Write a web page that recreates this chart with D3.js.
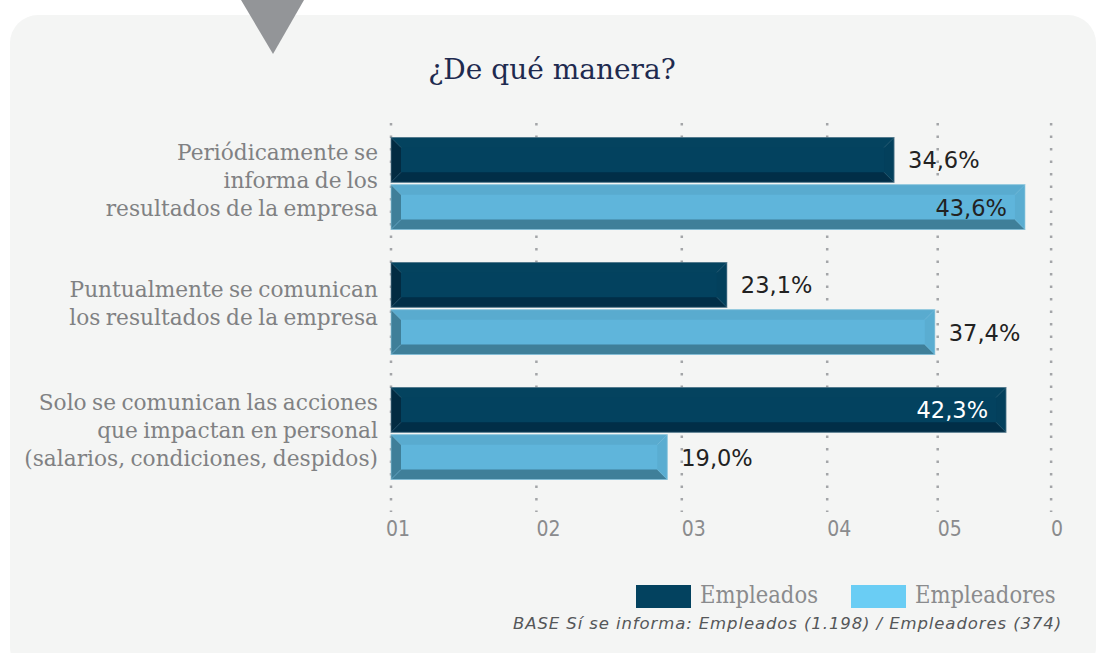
<!DOCTYPE html>
<html><head><meta charset="utf-8">
<script src="https://cdn.jsdelivr.net/npm/d3@7"></script>
<style>
html,body{margin:0;padding:0;background:#fff;}
svg{display:block;}
</style></head>
<body>
<script>
const title = "¿De qué manera?";
const categories = [
  ["Periódicamente se","informa de los","resultados de la empresa"],
  ["Puntualmente se comunican","los resultados de la empresa"],
  ["Solo se comunican las acciones","que impactan en personal","(salarios, condiciones, despidos)"]
];
const seriesNames = ["Empleados","Empleadores"];
const empleados = [34.6, 23.1, 42.3];
const empleadores = [43.6, 37.4, 19.0];
const gridValues = [0, 10, 20, 30, 37.6, 45.4];
const tickLabels = ["01","02","03","04","05","0"];
const baseNote = "BASE Sí se informa: Empleados (1.198) / Empleadores (374)";

const W = 1102, H = 653;
const svg = d3.select("body").append("svg").attr("width", W).attr("height", H);

// panel
svg.append("rect").attr("x",10).attr("y",15).attr("width",1086).attr("height",660)
  .attr("rx",28).attr("fill","#f4f5f4");
// triangle pointer
svg.append("path").attr("d","M241,0 L304,0 L273,54 Z").attr("fill","#939598");

// title
svg.append("text").attr("x",552).attr("y",79).attr("text-anchor","middle")
  .attr("font-family","'DejaVu Serif',serif").attr("font-size",28)
  .attr("fill","#1e2a4f").text(title);

const x = d3.scaleLinear().domain([0,50]).range([391, 391 + 727]);
const y = d3.scaleBand().domain(d3.range(categories.length)).range([120.5, 495.5]).padding(0);
const ys = d3.scaleBand().domain(seriesNames).range([17, 109]).paddingInner(0.05);

// gridlines
svg.append("g").selectAll("line").data(gridValues).join("line")
  .attr("x1", d => x(d)).attr("x2", d => x(d))
  .attr("y1", 123).attr("y2", 512)
  .attr("stroke","#a3a5a8").attr("stroke-width",2.5).attr("stroke-dasharray","2.5,10");

// tick labels
svg.append("g").selectAll("text").data(gridValues).join("text")
  .attr("x", (d,i) => x(d) + (i===0 ? -5 : 0)).attr("y", 536)
  .attr("font-family","'DejaVu Sans Condensed','DejaVu Sans',sans-serif").attr("font-size",21)
  .attr("fill","#8a8b8d").text((d,i) => tickLabels[i]);

// category labels
const catG = svg.append("g");
categories.forEach((lines, i) => {
  const cy = y(i) + y.bandwidth()/2;
  const n = lines.length;
  const t = catG.append("text").attr("text-anchor","end")
    .attr("font-family","'DejaVu Serif',serif").attr("font-size",21.7)
    .attr("word-spacing",-1.5)
    .attr("fill","#808183");
  lines.forEach((l, j) => {
    t.append("tspan").attr("x", 378).attr("y", cy + (j - (n-1)/2) * 28 + (n === 3 ? 5 : 3)).text(l);
  });
});

// bars with bevel
const palette = {
  Empleados:   {main:"#03425f", top:"#04435f", bottom:"#012e47", left:"#022b42", right:"#03405c", edge:"#5c7f92", text:"#ffffff"},
  Empleadores: {main:"#5fb5db", top:"#59abcf", bottom:"#3f7f99", left:"#3f7f99", right:"#5aadd1", edge:"#8cc4dc", text:"#222222"}
};
const data = [];
categories.forEach((c, i) => {
  data.push({cat:i, s:"Empleados", v:empleados[i]});
  data.push({cat:i, s:"Empleadores", v:empleadores[i]});
});
const inset = 10;
const barG = svg.append("g");
data.forEach(d => {
  const p = palette[d.s];
  const x0 = x(0), x1 = x(d.v);
  const y0 = y(d.cat) + ys(d.s), y1 = y0 + ys.bandwidth();
  const g = barG.append("g");
  g.append("rect").attr("x",x0).attr("y",y0).attr("width",x1-x0).attr("height",y1-y0).attr("fill",p.main);
  const ix0 = x0+inset, ix1 = x1-inset, iy0 = y0+inset, iy1 = y1-inset;
  const poly = (pts, fill) => g.append("polygon").attr("points", pts.map(q=>q.join(",")).join(" ")).attr("fill", fill);
  poly([[x0,y0],[x1,y0],[ix1,iy0],[ix0,iy0]], p.top);
  poly([[x0,y1],[x1,y1],[ix1,iy1],[ix0,iy1]], p.bottom);
  poly([[x0,y0],[ix0,iy0],[ix0,iy1],[x0,y1]], p.left);
  poly([[x1,y0],[ix1,iy0],[ix1,iy1],[x1,y1]], p.right);
  [[x0,y0,ix0,iy0],[x1,y0,ix1,iy0],[x0,y1,ix0,iy1],[x1,y1,ix1,iy1]].forEach(l =>
    g.append("line").attr("x1",l[0]).attr("y1",l[1]).attr("x2",l[2]).attr("y2",l[3])
      .attr("stroke",p.edge).attr("stroke-width",0.7).attr("opacity",0.6));
  g.append("rect").attr("x",x0).attr("y",y0).attr("width",x1-x0).attr("height",y1-y0)
    .attr("fill","none").attr("stroke",p.edge).attr("stroke-width",1).attr("opacity",0.7);

  const inside = d.v > 40;
  const lbl = d.v.toFixed(1).replace(".", ",") + "%";
  g.append("text")
    .attr("x", inside ? x1 - 18 : x1 + 14)
    .attr("y", (y0+y1)/2 + 8.5)
    .attr("text-anchor", inside ? "end" : "start")
    .attr("font-family","'DejaVu Sans',sans-serif").attr("font-size",22.5)
    .attr("fill", inside ? p.text : "#222222").text(lbl);
});

// legend
const legend = svg.append("g");
const legItems = [
  {name: seriesNames[0], color:"#03425f", x:636, tx:700},
  {name: seriesNames[1], color:"#6acdf4", x:851, tx:915}
];
legItems.forEach(it => {
  legend.append("rect").attr("x",it.x).attr("y",585).attr("width",55).attr("height",23).attr("fill",it.color);
  legend.append("text").attr("x",it.tx).attr("y",603)
    .attr("font-family","'DejaVu Serif Condensed','DejaVu Serif',serif").attr("font-size",23.5)
    .attr("fill","#8a8b8d").text(it.name);
});
svg.append("text").attr("x",1062).attr("y",629).attr("text-anchor","end")
  .attr("font-family","'DejaVu Sans','Verdana',sans-serif").attr("font-style","italic").attr("font-size",16.5)
  .attr("letter-spacing",0.9)
  .attr("fill","#555759").text(baseNote);
</script>
</body></html>
